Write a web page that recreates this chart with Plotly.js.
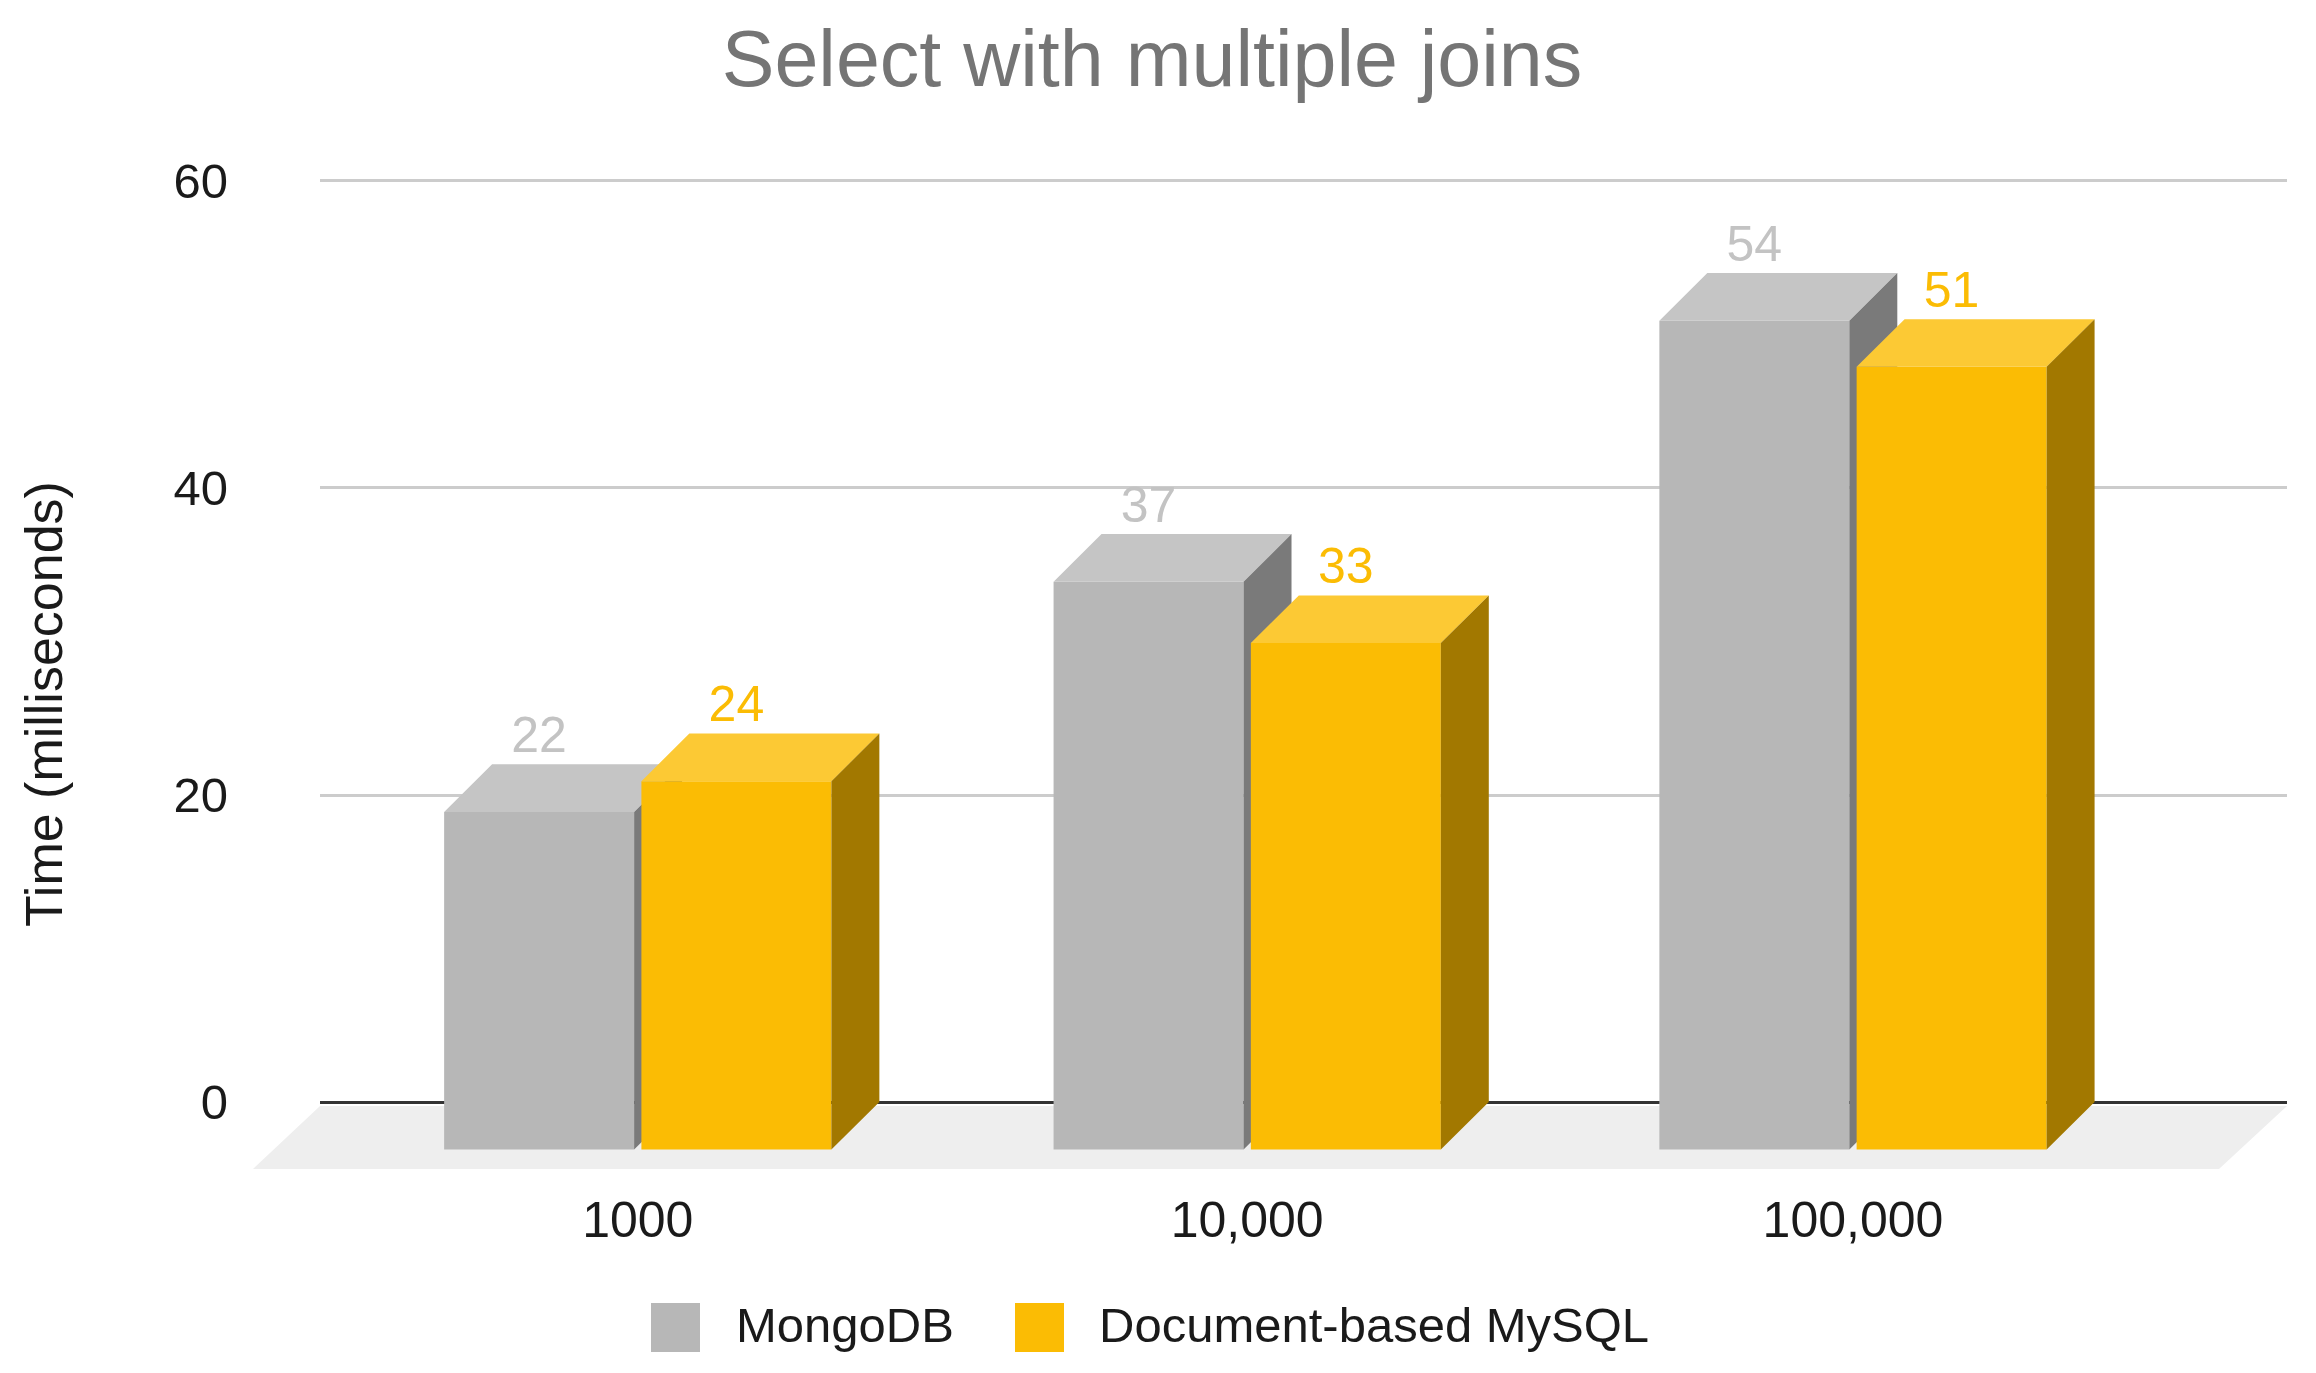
<!DOCTYPE html>
<html>
<head>
<meta charset="utf-8">
<script src="https://cdn.plot.ly/plotly-3.0.1.min.js"></script>
<style>body { margin: 0; background: #fff; }</style>
</head>
<body>
<div id="chart" style="width:2316px;height:1373px"></div>
<script>
const categories = ['1000', '10,000', '100,000'];
const mongoValues = [22, 37, 54];
const mysqlValues = [24, 33, 51];
const yTicks = [0, 20, 40, 60];

const FONT = '"Liberation Sans", Arial, sans-serif';

// plot box in page pixels, only used to place the paper-anchored bits
const box = { left: 320, right: 2287, top: 140, bottom: 1172 };
const px = x => (x - box.left) / (box.right - box.left);
const py = y => (box.bottom - y) / (box.bottom - box.top);

const xRange = [-0.5235, 2.717];
const yRange = [-4.56, 62.67];

// fake 3D: the back of each bar sits on the axis, the front is pushed down-left
const barW = 0.313;
const depthX = 0.079;
const depthY = 3.1;

// group centres are not quite evenly spaced in the reference
const xPos = [0, 1.004, 2.002];

function addSeries(traces, name, values, offset, colors, xa, ya) {
    // front face
    traces.push({
        type: 'bar', name, x: xPos, y: values, base: -depthY,
        offset, width: barW, xaxis: xa, yaxis: ya,
        marker: { color: colors.front, line: { width: 0 } },
        hoverinfo: 'name+y'
    });

    const topX = [], topY = [], sideX = [], sideY = [];
    values.forEach((v, i) => {
        const l = xPos[i] + offset;
        const r = l + barW;
        topX.push(l, l + depthX, r + depthX, r, l, null);
        topY.push(v - depthY, v, v, v - depthY, v - depthY, null);
        sideX.push(r, r + depthX, r + depthX, r, r, null);
        sideY.push(-depthY, 0, v, v - depthY, -depthY, null);
    });

    const face = (x, y, color) => ({
        type: 'scatter', mode: 'lines', x, y, xaxis: xa, yaxis: ya,
        fill: 'toself', fillcolor: color, line: { width: 0, color, simplify: false },
        hoverinfo: 'skip', showlegend: false
    });
    traces.push(face(topX, topY, colors.top));
    traces.push(face(sideX, sideY, colors.side));

    // value labels stand above the back edge, centred on the front face
    traces.push({
        type: 'scatter', mode: 'text', x: xPos.map(p => p + offset + barW / 2), y: values,
        text: values.map(String), textposition: 'top center', xaxis: xa, yaxis: ya,
        textfont: { family: FONT, size: 50, color: colors.label },
        hoverinfo: 'skip', showlegend: false
    });
}

const traces = [];
addSeries(traces, 'MongoDB', mongoValues, -0.319,
    { front: '#b7b7b7', top: '#c5c5c5', side: '#7a7a7a', label: '#c3c3c3' }, 'x', 'y');
addSeries(traces, 'Document-based MySQL', mysqlValues, 0.006,
    { front: '#fbbc04', top: '#fcc934', side: '#a27800', label: '#fbbc04' }, 'x2', 'y2');

const layout = {
    width: 2316,
    height: 1373,
    paper_bgcolor: '#ffffff',
    plot_bgcolor: 'rgba(0,0,0,0)',
    margin: { l: box.left, r: 2316 - box.right, t: box.top, b: 1373 - box.bottom, pad: 0 },
    showlegend: false,
    barmode: 'overlay',
    title: {
        text: 'Select with multiple joins',
        x: 1152 / 2316, xanchor: 'center', y: 1 - 58 / 1373, yanchor: 'middle',
        font: { family: FONT, size: 79, color: '#757575' }
    },
    xaxis: {
        range: xRange, tickmode: 'array', tickvals: xPos, ticktext: categories,
        showgrid: false, zeroline: false, showline: false, ticks: '',
        ticklabelstandoff: 14,
        tickfont: { family: FONT, size: 50, color: '#1a1a1a' }
    },
    yaxis: {
        range: yRange, tickmode: 'array', tickvals: yTicks, ticktext: yTicks.map(String),
        showgrid: true, gridcolor: '#cccccc', gridwidth: 3,
        zeroline: true, zerolinecolor: '#333333', zerolinewidth: 3,
        showline: false, ticks: '', ticklabelstandoff: 91,
        tickfont: { family: FONT, size: 49, color: '#1a1a1a' }
    },
    xaxis2: { overlaying: 'x', anchor: 'y2', range: xRange, visible: false },
    yaxis2: { overlaying: 'y', anchor: 'x2', range: yRange, visible: false },
    shapes: [
        // floor under the bars
        {
            type: 'path', xref: 'paper', yref: 'paper', layer: 'below',
            path: `M ${px(320)} ${py(1106)} L ${px(2287)} ${py(1106)} L ${px(2219)} ${py(1169)} L ${px(253)} ${py(1169)} Z`,
            fillcolor: '#eeeeee', line: { width: 0 }
        },
        // legend swatches
        {
            type: 'rect', xref: 'paper', yref: 'paper', layer: 'above',
            x0: px(651), x1: px(700), y0: py(1352), y1: py(1303),
            fillcolor: '#b7b7b7', line: { width: 0 }
        },
        {
            type: 'rect', xref: 'paper', yref: 'paper', layer: 'above',
            x0: px(1015), x1: px(1064), y0: py(1352), y1: py(1303),
            fillcolor: '#fbbc04', line: { width: 0 }
        }
    ],
    annotations: [
        {
            text: 'Time (milliseconds)', textangle: -90, showarrow: false,
            xref: 'paper', yref: 'paper', x: px(44), y: py(704), xanchor: 'center', yanchor: 'middle',
            font: { family: FONT, size: 52, color: '#1a1a1a' }
        },
        {
            text: 'MongoDB', showarrow: false,
            xref: 'paper', yref: 'paper', x: px(734), y: py(1325), xanchor: 'left', yanchor: 'middle',
            font: { family: FONT, size: 49, color: '#1a1a1a' }
        },
        {
            text: 'Document-based MySQL', showarrow: false,
            xref: 'paper', yref: 'paper', x: px(1097), y: py(1325), xanchor: 'left', yanchor: 'middle',
            font: { family: FONT, size: 49, color: '#1a1a1a' }
        }
    ]
};

Plotly.newPlot('chart', traces, layout, { displayModeBar: false, responsive: false });
</script>
</body>
</html>
